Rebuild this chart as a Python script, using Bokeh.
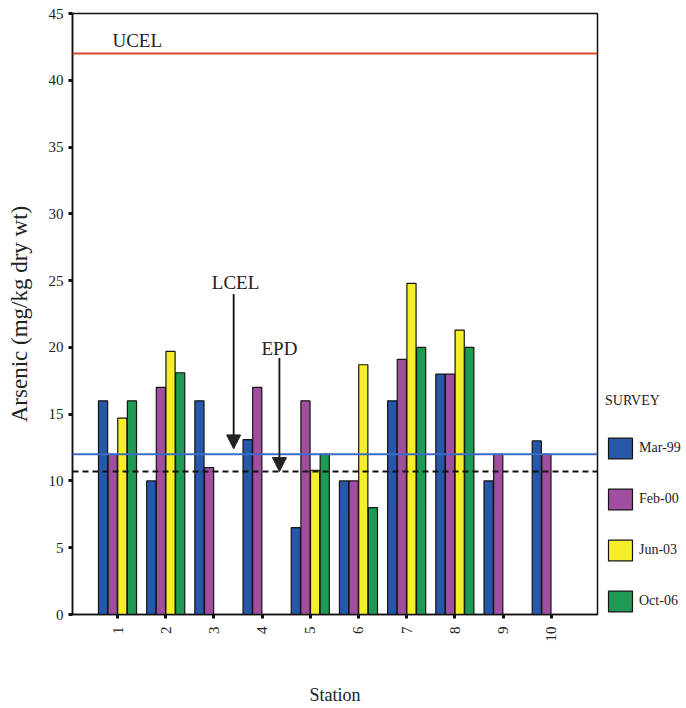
import math
from bokeh.plotting import figure
from bokeh.models import (Range1d, FixedTicker, Span, Label, Arrow, NormalHead,
                          Legend, LegendItem)
from bokeh.embed import file_html
from bokeh.resources import INLINE

# ---- data ----
stations = [1, 2, 3, 4, 5, 6, 7, 8, 9, 10]
tick_labels = ["1", "2", "3", "4", "5", "6", "7", "8", "9", "10"]
surveys = ["Mar-99", "Feb-00", "Jun-03", "Oct-06"]
mar99 = [16, 10, 16, 13.1, 6.5, 10, 16, 18, 10, 13]
feb00 = [12, 17, 11, 17, 16, 10, 19.1, 18, 12, 12]
jun03 = [14.7, 19.7, None, None, 10.8, 18.7, 24.8, 21.3, None, None]
oct06 = [16, 18.1, None, None, 12, 8, 20, 20, None, None]
ucel = 42
lcel = 12
epd = 10.7

# ---- style ----
FONT = "Liberation Serif"
colors = ["#2757a8", "#a24ea0", "#f6ee26", "#1e9a53"]
offsets = [-0.3, -0.1, 0.1, 0.3]
bar_w = 0.19

p = figure(frame_width=525, frame_height=601, output_backend="svg", toolbar_location=None,
           x_range=Range1d(0.066, 10.96), y_range=Range1d(0, 45),
           min_border_left=72, min_border_right=89, min_border_top=13,
           min_border_bottom=94)
p.xgrid.visible = False
p.ygrid.visible = False
p.outline_line_color = "#111111"
p.outline_line_width = 1.5
p.background_fill_color = "white"

items = []
for vals, col, off, name in zip([mar99, feb00, jun03, oct06], colors, offsets, surveys):
    xs = [s + off for s, v in zip(stations, vals) if v is not None]
    tops = [v for v in vals if v is not None]
    r = p.vbar(x=xs, top=tops, bottom=0, width=bar_w, fill_color=col,
               line_color="#151515", line_width=1.2)
    items.append(LegendItem(label=name, renderers=[r]))

# reference lines
p.add_layout(Span(location=ucel, dimension="width", line_color="#d8492c", line_width=2))
p.add_layout(Span(location=lcel, dimension="width", line_color="#3a6cc6", line_width=2))
p.add_layout(Span(location=epd, dimension="width", line_color="#111111", line_width=2,
                  line_dash="6 4"))

# annotations
p.add_layout(Label(x=1.41, y=43.0, text="UCEL", text_align="center", text_baseline="middle",
                   text_font=FONT, text_font_size="19px", text_color="#222222"))
p.add_layout(Label(x=3.45, y=24.85, text="LCEL", text_align="center", text_baseline="middle",
                   text_font=FONT, text_font_size="19px", text_color="#222222"))
p.add_layout(Label(x=4.36, y=19.9, text="EPD", text_align="center", text_baseline="middle",
                   text_font=FONT, text_font_size="19px", text_color="#222222"))
p.add_layout(Arrow(x_start=3.41, y_start=24.0, x_end=3.41, y_end=12.4, line_width=1.8,
                   line_color="#111111",
                   end=NormalHead(size=14, fill_color="#222222", line_color="#222222")))
p.add_layout(Arrow(x_start=4.36, y_start=19.2, x_end=4.36, y_end=10.7, line_width=1.8,
                   line_color="#111111",
                   end=NormalHead(size=14, fill_color="#222222", line_color="#222222")))

# axes
for ax in (p.xaxis[0], p.yaxis[0]):
    ax.axis_line_color = "#111111"
    ax.axis_line_width = 1.5
    ax.major_tick_line_color = "#111111"
    ax.major_tick_line_width = 3
    ax.major_tick_out = 4
    ax.major_tick_in = 0
    ax.minor_tick_line_color = None
    ax.major_label_text_font = FONT
    ax.major_label_text_font_size = "15px"
    ax.major_label_text_color = "#222222"
    ax.axis_label_text_font = FONT
    ax.axis_label_text_font_style = "normal"
    ax.axis_label_text_color = "#222222"

p.yaxis.ticker = FixedTicker(ticks=[0, 5, 10, 15, 20, 25, 30, 35, 40, 45])
p.yaxis.axis_label = "Arsenic (mg/kg dry wt)"
p.yaxis.axis_label_text_font_size = "23px"
p.yaxis.axis_label_standoff = 14
p.yaxis.major_label_standoff = 5

p.xaxis.ticker = FixedTicker(ticks=stations)
p.xaxis.major_label_overrides = {s: t for s, t in zip(stations, tick_labels)}
p.xaxis.major_label_orientation = math.pi / 2
p.xaxis.major_label_standoff = 8
p.xaxis.axis_label = "Station"
p.xaxis.axis_label_text_font_size = "18px"
p.xaxis.axis_label_standoff = 40

legend = Legend(items=items, title="SURVEY", location=(8, 0),
                glyph_width=30, glyph_height=26, spacing=25, label_standoff=4,
                label_height=26, padding=2, margin=0, border_line_color=None,
                background_fill_alpha=0,
                label_text_font=FONT, label_text_font_size="14px",
                label_text_color="#222222",
                title_text_font=FONT, title_text_font_size="14px",
                title_text_font_style="normal", title_text_color="#222222",
                title_standoff=26)
p.add_layout(legend, "right")

open("out.html", "w").write(file_html(p, INLINE))
